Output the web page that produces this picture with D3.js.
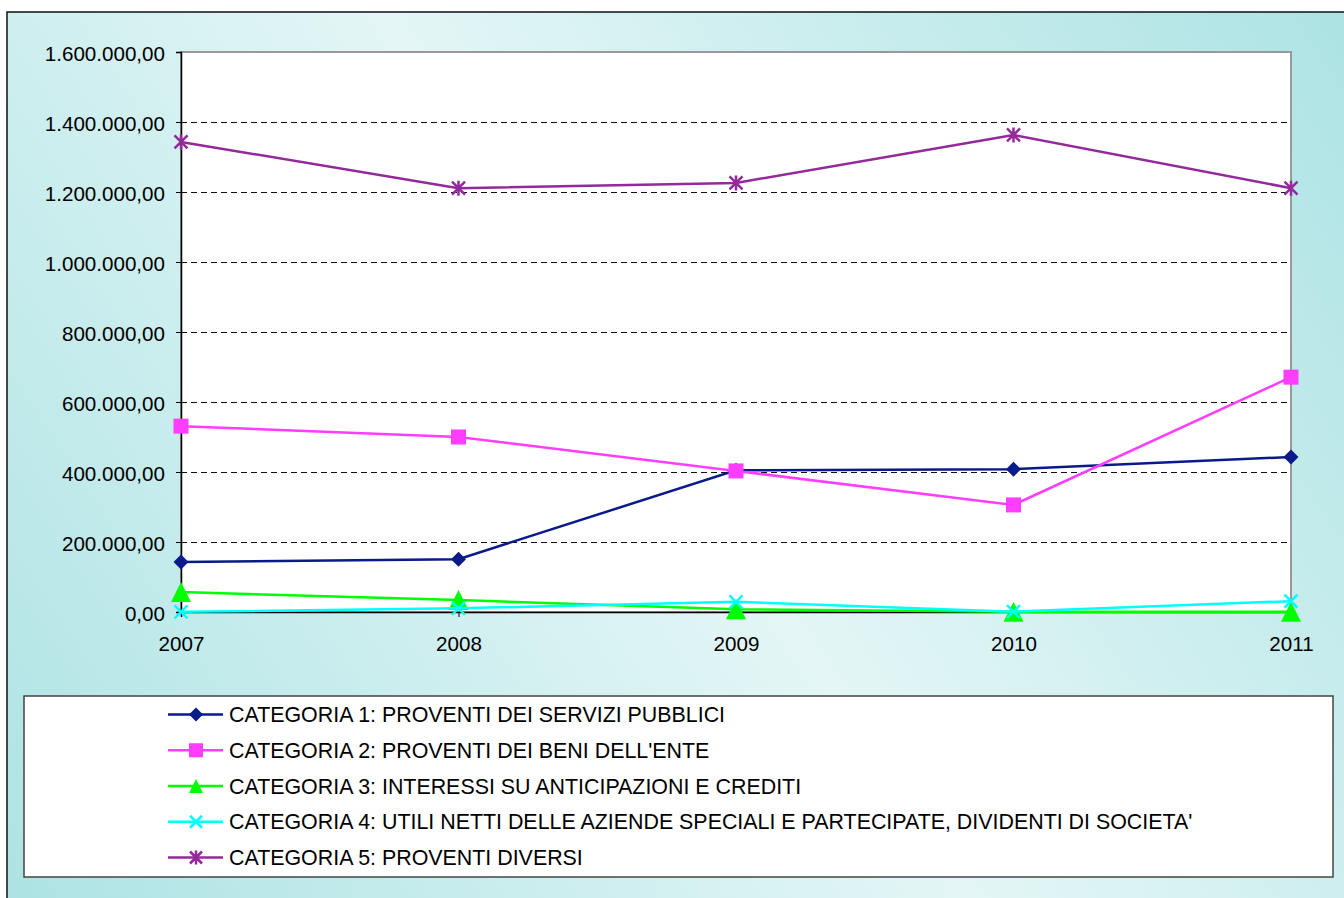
<!DOCTYPE html>
<html><head><meta charset="utf-8">
<script src="https://cdn.jsdelivr.net/npm/d3@7"></script>
<style>html,body{margin:0;padding:0;background:#fff;}svg{display:block;font-family:"Liberation Sans",Arial,sans-serif;}</style>
</head><body>
<script>
const years = ["2007","2008","2009","2010","2011"];
const yTicks = [0,200000,400000,600000,800000,1000000,1200000,1400000,1600000];
const seriesNames = [
  "CATEGORIA 1: PROVENTI DEI SERVIZI PUBBLICI",
  "CATEGORIA 2: PROVENTI DEI BENI DELL'ENTE",
  "CATEGORIA 3: INTERESSI SU ANTICIPAZIONI E CREDITI",
  "CATEGORIA 4: UTILI NETTI DELLE AZIENDE SPECIALI E PARTECIPATE, DIVIDENTI DI SOCIETA'",
  "CATEGORIA 5: PROVENTI DIVERSI"
];
const cat1 = [143000, 151000, 405000, 408000, 443000];
const cat2 = [531000, 500000, 403000, 306000, 671000];
const cat3 = [57000, 34000, 8000, 1000, 500];
const cat4 = [500, 10500, 29000, 1000, 31000];
const cat5 = [1343000, 1211000, 1226000, 1363000, 1211000];
const seriesValues = [cat1, cat2, cat3, cat4, cat5];
const seriesColors = ["#0a1a8a", "#ff3dff", "#00ff00", "#00ffff", "#93299a"];
const seriesMarkers = ["diamond", "square", "triangle", "x", "star"];

const W = 1344, H = 898;
const svg = d3.select("body").append("svg").attr("width", W).attr("height", H);
const defs = svg.append("defs");
const grad = defs.append("linearGradient").attr("id","bg")
  .attr("gradientUnits","userSpaceOnUse")
  .attr("x1", 7).attr("y1", 898).attr("x2", 1344).attr("y2", 12);
grad.append("stop").attr("offset","0%").attr("stop-color","#ade3e4");
grad.append("stop").attr("offset","50%").attr("stop-color","#e4f6f6");
grad.append("stop").attr("offset","100%").attr("stop-color","#ade3e4");

svg.append("rect").attr("x",7).attr("y",12).attr("width",1400).attr("height",1000)
  .attr("fill","url(#bg)").attr("stroke","#111").attr("stroke-width",1.5);

const pl = 181, pr = 1291, pt = 52, pb = 612;
const x = d3.scalePoint().domain(years).range([pl, pr]);
const y = d3.scaleLinear().domain([0, 1600000]).range([pb, pt]);
const loc = d3.formatLocale({decimal:",", thousands:".", grouping:[3], currency:["€",""]});
const fmt = loc.format(",.2f");
const FONT = "'Liberation Sans',Arial,sans-serif";

// plot area
svg.append("rect").attr("x",pl).attr("y",pt).attr("width",pr-pl).attr("height",pb-pt)
  .attr("fill","#fff").attr("stroke","#999").attr("stroke-width",2);

// gridlines
svg.append("g").selectAll("line").data(yTicks.filter(d => d>0 && d<1600000)).join("line")
  .attr("x1",pl).attr("x2",pr).attr("y1",d=>Math.round(y(d))+0.5).attr("y2",d=>Math.round(y(d))+0.5)
  .attr("stroke","#111").attr("stroke-width",1).attr("stroke-dasharray","6,4");

// y axis
const ya = svg.append("g").attr("transform",`translate(${pl},0)`)
  .call(d3.axisLeft(y).tickValues(yTicks).tickFormat(fmt).tickSize(5).tickPadding(11));
ya.select(".domain").attr("stroke","#000").attr("stroke-width",1.5);
ya.selectAll(".tick line").attr("stroke","#000");
ya.selectAll("text").attr("font-size","20.6px").attr("fill","#000").attr("dy","0.4em")
  .attr("font-family",FONT);

// x axis
const xa = svg.append("g").attr("transform",`translate(0,${pb})`)
  .call(d3.axisBottom(x).tickSize(5).tickPadding(19));
xa.select(".domain").attr("stroke","#000").attr("stroke-width",1.5);
xa.selectAll(".tick line").attr("stroke","#000");
xa.selectAll("text").attr("font-size","20.6px").attr("fill","#000")
  .attr("font-family",FONT);

function drawMarker(g, type, color, cx, cy, s) {
  if (type === "diamond") {
    g.append("path").attr("d", `M${cx},${cy-s/2}L${cx+s/2},${cy}L${cx},${cy+s/2}L${cx-s/2},${cy}Z`).attr("fill", color);
  } else if (type === "square") {
    g.append("rect").attr("x", cx-s/2).attr("y", cy-s/2).attr("width", s).attr("height", s).attr("fill", color);
  } else if (type === "triangle") {
    g.append("path").attr("d", `M${cx},${cy-s/2}L${cx+s/2},${cy+s/2}L${cx-s/2},${cy+s/2}Z`).attr("fill", color);
  } else if (type === "x") {
    const h = s/2;
    g.append("path").attr("d", `M${cx-h},${cy-h}L${cx+h},${cy+h}M${cx-h},${cy+h}L${cx+h},${cy-h}`)
      .attr("stroke", color).attr("stroke-width", 2.5).attr("fill","none");
  } else if (type === "star") {
    const h = s/2;
    g.append("path").attr("d", `M${cx-h},${cy-h}L${cx+h},${cy+h}M${cx-h},${cy+h}L${cx+h},${cy-h}M${cx},${cy-h-1}L${cx},${cy+h+1}`)
      .attr("stroke", color).attr("stroke-width", 2.5).attr("fill","none");
  }
}
const markerSize = {diamond:15, square:15, triangle:20, x:13, star:13};
const legendMarkerSize = {diamond:14, square:14, triangle:14, x:12, star:12};

const line = d3.line().x((d,i)=>x(years[i])).y(d=>y(d));
seriesValues.forEach((vals, si) => {
  const g = svg.append("g");
  g.append("path").datum(vals).attr("d", line).attr("fill","none")
    .attr("stroke", seriesColors[si]).attr("stroke-width", 2.5);
  vals.forEach((v, i) => drawMarker(g, seriesMarkers[si], seriesColors[si], x(years[i]), y(v), markerSize[seriesMarkers[si]]));
});

// legend
svg.append("rect").attr("x",24).attr("y",696).attr("width",1309).attr("height",181)
  .attr("fill","#fff").attr("stroke","#444").attr("stroke-width",1.5);
const rowY = d3.scalePoint().domain(d3.range(seriesNames.length)).range([714.5, 857.5]);
seriesNames.forEach((name, si) => {
  const g = svg.append("g");
  const cy = rowY(si);
  g.append("line").attr("x1",168).attr("x2",223).attr("y1",cy).attr("y2",cy)
    .attr("stroke",seriesColors[si]).attr("stroke-width",2.5);
  drawMarker(g, seriesMarkers[si], seriesColors[si], 196, cy, legendMarkerSize[seriesMarkers[si]]);
  g.append("text").attr("x",229).attr("y",cy).attr("dy","0.36em")
    .attr("font-size","21.4px").attr("fill","#000").attr("font-family",FONT).text(name);
});
</script>
</body></html>
